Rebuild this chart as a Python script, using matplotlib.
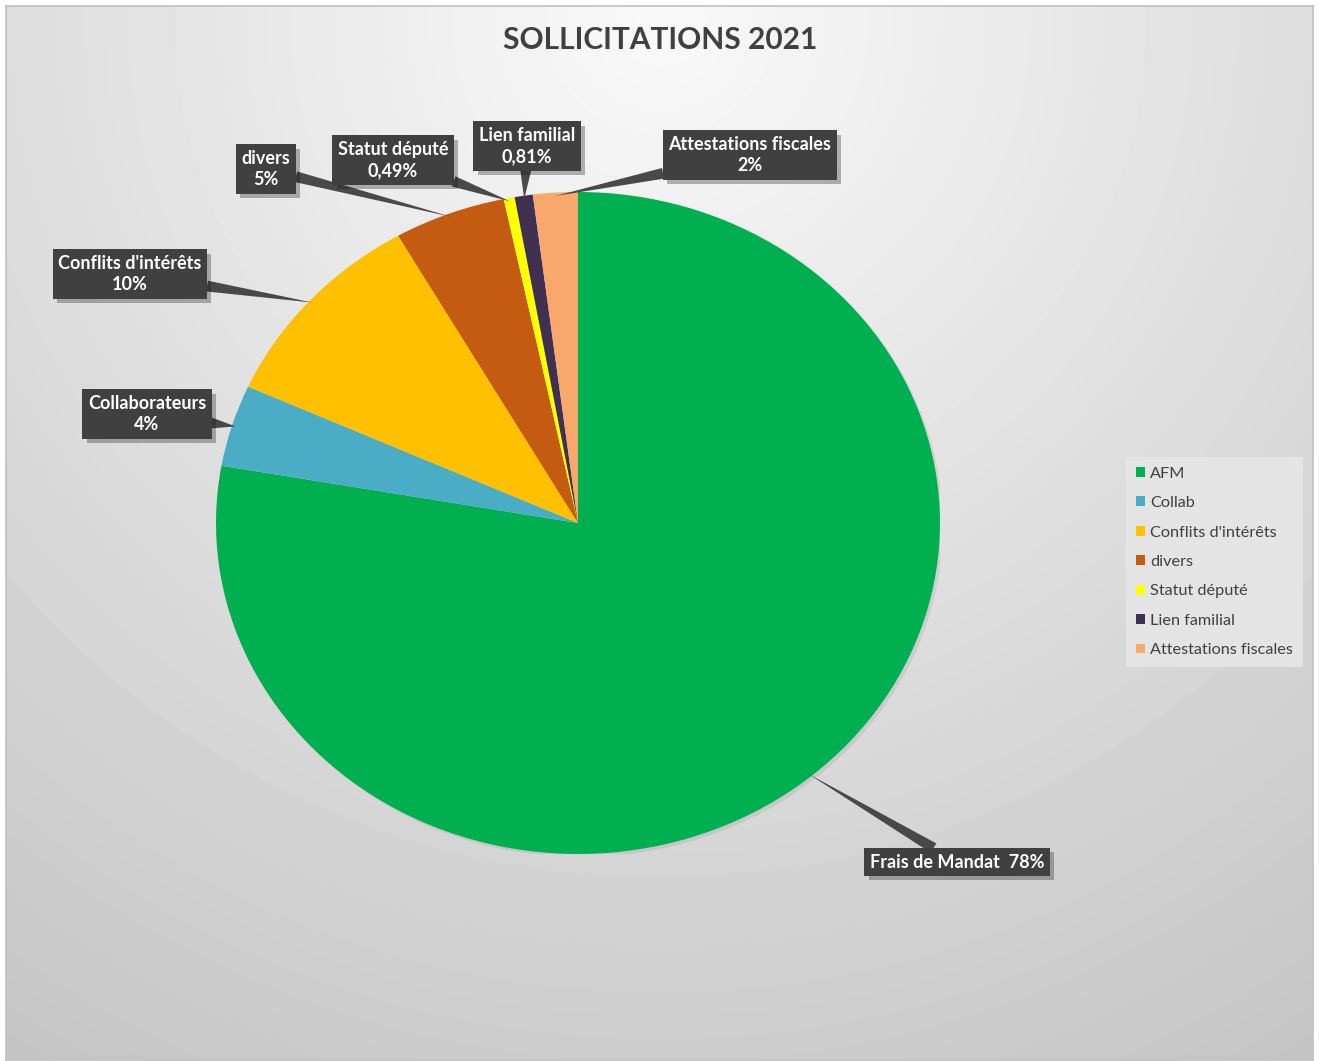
import numpy as np
import matplotlib.pyplot as plt
import matplotlib.patheffects as pe
from matplotlib.patches import Patch, Ellipse

# données du graphique
categories = ["AFM", "Collab", "Conflits d'intérêts", "divers",
              "Statut député", "Lien familial", "Attestations fiscales"]
valeurs = [78, 4, 10, 5, 0.49, 0.81, 2]
etiquettes = ["Frais de Mandat", "Collaborateurs", "Conflits d'intérêts", "divers",
              "Statut député", "Lien familial", "Attestations fiscales"]
couleurs = ["#00B050", "#4BACC6", "#FFC000", "#C55A11",
            "#FFFF00", "#403152", "#F9A86B"]
titre = "SOLLICITATIONS 2021"

# position des étiquettes (centre de la boîte, pixels de l'image)
pos_etiquettes = [(957, 862), (147, 414), (130, 274), (266, 169),
                  (393, 160), (527, 146), (750, 155)]

W, H = 1322, 1061
fig = plt.figure(figsize=(W / 100, H / 100), dpi=100)
fig.patch.set_facecolor("white")

# fond en dégradé
bg = fig.add_axes([6 / W, 1 / H, 1307 / W, 1054 / H])
xx, yy = np.meshgrid(np.arange(6, 1313), np.arange(6, 1060))
d = np.sqrt((xx - 660) ** 2 + (yy - 20) ** 2)
grad = np.clip(249 - 0.043 * d, 190, 255) / 255
bg.imshow(grad, cmap="gray", vmin=0, vmax=1, aspect="auto", interpolation="bilinear")
bg.set_xticks([])
bg.set_yticks([])
for s in bg.spines.values():
    s.set_color("#c0c0c0")
    s.set_linewidth(1.2)
bg.set_zorder(0)

# camembert (ellipse : aspect libre)
ax = fig.add_axes([216 / W, (H - 854) / H, 724 / W, 662 / H])
ax.set_zorder(1)
ax.patch.set_alpha(0)
ax.add_patch(Ellipse((3 / 362, -3 / 331), 2, 2, fc="black", alpha=0.07, ec="none", zorder=0))
wedges, _ = ax.pie(valeurs, colors=couleurs, startangle=90, counterclock=False,
                   radius=1, wedgeprops=dict(linewidth=0.3, edgecolor="none"))
ax.set_aspect("auto")
ax.set_xlim(-1, 1)
ax.set_ylim(-1, 1)
ax.axis("off")


def fmt_pct(v):
    if v < 1:
        return f"{v:.2f}".replace(".", ",") + "%"
    return f"{v:.0f}%"


for i, (w, lab, v) in enumerate(zip(wedges, etiquettes, valeurs)):
    mid = np.deg2rad((w.theta1 + w.theta2) / 2)
    px, py = 0.99 * np.cos(mid), 0.99 * np.sin(mid)
    if i == 0:
        txt = f"{lab}  {fmt_pct(v)}"
    else:
        txt = f"{lab}\n{fmt_pct(v)}"
    bx, by = pos_etiquettes[i]
    an = ax.annotate(txt, xy=(px, py), xycoords="data",
                     xytext=(bx, H - by), textcoords="figure pixels",
                     ha="center", va="center", color="white", fontsize=13,
                     fontweight="bold", family="Lato", linespacing=1.3,
                     bbox=dict(boxstyle="square,pad=0.3", fc="#404040", ec="none"),
                     arrowprops=dict(arrowstyle="wedge,tail_width=0.6,shrink_factor=0.5",
                                     fc="#404040", ec="none", alpha=0.95,
                                     shrinkA=0, shrinkB=0),
                     zorder=5, annotation_clip=False)
    an.get_bbox_patch().set_path_effects(
        [pe.SimplePatchShadow(offset=(3, -3), alpha=0.3), pe.Normal()])

fig.text(660 / W, 1 - 40 / H, titre, ha="center", va="center", fontsize=21.5,
         fontweight="bold", family="Lato", color="#404040", zorder=3)

poignees = [Patch(facecolor=c, edgecolor="none") for c in couleurs]
leg = fig.legend(poignees, categories, loc="center left",
                 bbox_to_anchor=(1126 / W, (H - 562) / H), frameon=True,
                 facecolor="#e4e4e4", edgecolor="none", fancybox=False, framealpha=1,
                 handlelength=0.55, handleheight=0.55,
                 handletextpad=0.35, labelspacing=0.95, borderpad=0.6,
                 borderaxespad=0, prop=dict(family="Lato", size=11.7))
for t in leg.get_texts():
    t.set_color("#404040")
leg.set_zorder(4)

fig.savefig("out.png", dpi=100, facecolor="white")
